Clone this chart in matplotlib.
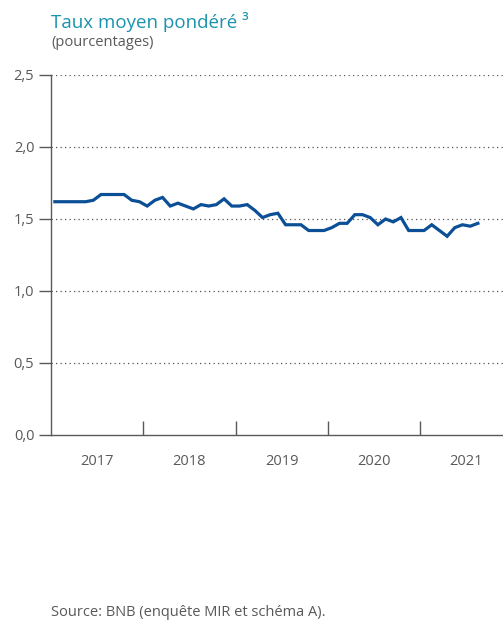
import matplotlib.pyplot as plt
import numpy as np

# taux moyen pondéré, mensuel, janv. 2017 - août 2021
years = [2017, 2018, 2019, 2020, 2021]
rates = [
    1.62, 1.62, 1.62, 1.62, 1.62, 1.63, 1.67, 1.67, 1.67, 1.67, 1.63, 1.62,
    1.59, 1.63, 1.65, 1.59, 1.61, 1.59, 1.57, 1.60, 1.59, 1.60, 1.64, 1.59,
    1.59, 1.60, 1.56, 1.51, 1.53, 1.54, 1.46, 1.46, 1.46, 1.42, 1.42, 1.42,
    1.44, 1.47, 1.47, 1.53, 1.53, 1.51, 1.46, 1.50, 1.48, 1.51, 1.42, 1.42,
    1.42, 1.46, 1.42, 1.38, 1.44, 1.46, 1.45, 1.47,
]
y_ticks = [0.0, 0.5, 1.0, 1.5, 2.0, 2.5]

GREY = "#595959"
BLUE = "#0b4f97"
TEAL = "#1a93ad"

plt.rcParams["font.family"] = ["Open Sans", "DejaVu Sans"]

fig = plt.figure(figsize=(5.03, 6.22), dpi=100)
ax = fig.add_axes([51 / 503, 1 - 435 / 622, 1 - 51 / 503, 360 / 622])

x = years[0] + (np.arange(len(rates)) + 0.5) / 12
ax.plot(x, rates, color=BLUE, lw=2.3, solid_joinstyle="miter", zorder=3)

ax.set_ylim(0, 2.5)
ax.set_xlim(years[0], years[0] + 452 / 92.3)
ax.set_yticks(y_ticks)
ax.set_yticklabels([f"{v:.1f}".replace(".", ",") for v in y_ticks])
for v in y_ticks[1:]:
    ax.axhline(v, color="#555555", lw=0.9, ls=(0, (1, 2.6)), zorder=1)

ax.set_xticks(years[1:])
ax.set_xticklabels([])
ax.set_xticks([yr + 0.5 for yr in years], minor=True)
ax.set_xticklabels([str(yr) for yr in years], minor=True)
ax.tick_params(axis="x", which="major", direction="in", length=10, width=1, color=GREY)
ax.tick_params(axis="x", which="minor", length=0, pad=14, labelsize=10.5, labelcolor=GREY)
ax.tick_params(axis="y", direction="out", length=9, width=1, color=GREY,
               labelsize=10.5, labelcolor=GREY, pad=3)

for s in ["top", "right"]:
    ax.spines[s].set_visible(False)
for s in ["left", "bottom"]:
    ax.spines[s].set_color(GREY)
    ax.spines[s].set_linewidth(1.0)

fig.text(51 / 503, 1 - 22 / 622, "Taux moyen pondéré ³", color=TEAL,
         fontsize=13.5, va="center", ha="left")
fig.text(51 / 503, 1 - 43 / 622, "(pourcentages)", color=GREY,
         fontsize=10.5, va="center", ha="left")
fig.text(51 / 503, 1 - 612 / 622, "Source: BNB (enquête MIR et schéma A).",
         color=GREY, fontsize=10.5, va="center", ha="left")

fig.savefig("out.png", dpi=100)
